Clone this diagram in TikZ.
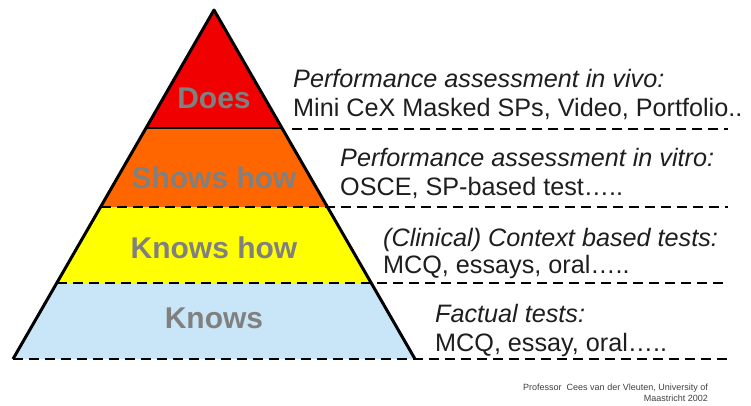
\documentclass[tikz,border=0pt]{standalone}
\usepackage{fontspec}
\setmainfont{Liberation Sans}
\definecolor{doesred}{RGB}{240,0,0}
\definecolor{showorange}{RGB}{255,102,0}
\definecolor{knowyellow}{RGB}{255,255,0}
\definecolor{knowblue}{RGB}{200,230,248}
\definecolor{labelgray}{RGB}{128,128,128}
\definecolor{textgray}{RGB}{30,30,30}
\begin{document}
\begin{tikzpicture}[x=1pt,y=-1pt,
  levellabel/.style={font=\fontsize{30}{30}\selectfont\bfseries, text=labelgray, anchor=base, inner sep=0pt},
  headtext/.style={font=\fontsize{25.2}{29}\selectfont\itshape, text=textgray, anchor=base west, inner sep=0pt},
  bodytext/.style={font=\fontsize{25.2}{29}\selectfont, text=textgray, anchor=base west, inner sep=0pt},
  sepline/.style={line width=2.8pt, dash pattern=on 10pt off 6pt},
  edge/.style={line width=3pt, line join=round},
  credit/.style={font=\fontsize{9}{11}\selectfont, text=black!75, anchor=base east, inner sep=0pt}]
\useasboundingbox (0,0) rectangle (751,405);
\fill[white] (0,0) rectangle (751,405);
% pyramid corner points
\coordinate (apex) at (214,10);
\coordinate (l1) at (146,128);   \coordinate (r1) at (282,128);
\coordinate (l2) at (100.5,207); \coordinate (r2) at (327.5,207);
\coordinate (l3) at (56.8,283);  \coordinate (r3) at (371.2,283);
\coordinate (l4) at (13,359);    \coordinate (r4) at (415,359);
% right ends of separators
\coordinate (s1) at (292,129); \coordinate (e1) at (728,129);
\coordinate (e2) at (728,207);
\coordinate (e3) at (728,283);
\coordinate (e4) at (728,359);
% bands
\fill[doesred] (apex) -- (r1) -- (l1) -- cycle;
\fill[showorange] (l1) -- (r1) -- (r2) -- (l2) -- cycle;
\fill[knowyellow] (l2) -- (r2) -- (r3) -- (l3) -- cycle;
\fill[knowblue] (l3) -- (r3) -- (r4) -- (l4) -- cycle;
% separators
\draw[line width=2.5pt] (l1) -- (r1);
\draw[sepline] (s1) -- (e1);
\draw[sepline] (l2) -- (e2);
\draw[sepline] (l3) -- (e3);
\draw[sepline] (l4) -- (e4);
% outline
\draw[edge] (l4) -- (apex) -- (r4);
% level labels
\node[levellabel] (does) at (214,108) {Does};
\node[levellabel] (shows) at (214,188) {Shows how};
\node[levellabel] (knowshow) at (214,258) {Knows how};
\node[levellabel] (knows) at (214,328) {Knows};
% descriptions
\node[headtext] (h1) at (293,87) {Performance assessment in vivo:};
\node[bodytext] (b1) at (293,116) {Mini CeX Masked SPs, Video, Portfolio..};
\node[headtext] (h2) at (340,166) {Performance assessment in vitro:};
\node[bodytext] (b2) at (340,195) {OSCE, SP-based test…..};
\node[headtext] (h3) at (383,246) {(Clinical) Context based tests:};
\node[bodytext] (b3) at (383,273) {MCQ, essays, oral…..};
\node[headtext] (h4) at (435,322) {Factual tests:};
\node[bodytext] (b4) at (435,351) {MCQ, essay, oral…..};
% credit
\node[credit] (c1) at (708,390) {Professor\ \ Cees van der Vleuten, University of};
\node[credit] (c2) at (708,401) {Maastricht 2002};
\end{tikzpicture}
\end{document}
